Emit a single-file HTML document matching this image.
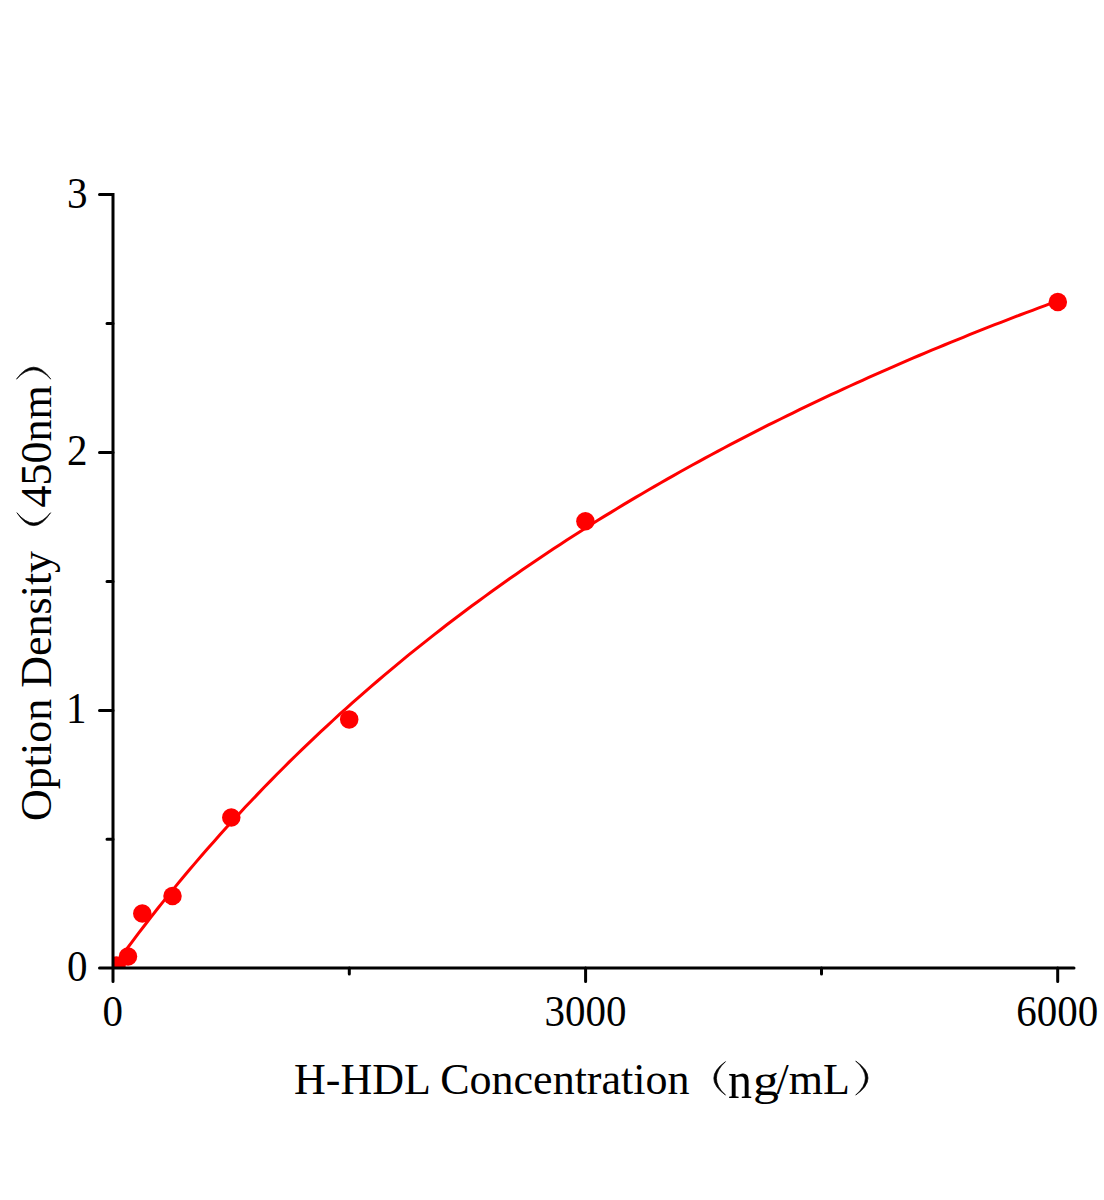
<!DOCTYPE html>
<html><head><meta charset="utf-8"><style>
html,body{margin:0;padding:0;background:#fff;width:1104px;height:1200px;overflow:hidden}
svg{display:block}
text{font-family:"Liberation Serif",serif;fill:#000}
</style></head><body>
<svg width="1104" height="1200" viewBox="0 0 1104 1200">
<rect width="1104" height="1200" fill="#fff"/>
<defs><clipPath id="pc"><rect x="113" y="150" width="1000" height="818"/></clipPath></defs>

<g font-size="41">
<text transform="translate(87.5,208) scale(1,1.088)" text-anchor="end">3</text>
<text transform="translate(87.5,465) scale(1,1.088)" text-anchor="end">2</text>
<text transform="translate(86.5,723) scale(1,1.088)" text-anchor="end">1</text>
<text transform="translate(87.5,981) scale(1,1.088)" text-anchor="end">0</text>
<text transform="translate(112.7,1025.5) scale(1,1.088)" text-anchor="middle">0</text>
<text transform="translate(585.5,1025.5) scale(1,1.088)" text-anchor="middle">3000</text>
<text transform="translate(1057.3,1025.5) scale(1,1.088)" text-anchor="middle">6000</text>
</g>
<g clip-path="url(#pc)" fill="#f00">
<path d="M113.0,968.0 L119.3,959.2 L125.6,950.5 L131.9,942.1 L138.2,933.7 L144.5,925.5 L150.8,917.3 L157.1,909.3 L163.4,901.4 L169.7,893.6 L176.0,885.9 L182.3,878.3 L188.6,870.8 L194.9,863.4 L201.2,856.1 L207.5,848.8 L213.8,841.7 L220.1,834.6 L226.4,827.6 L232.7,820.7 L239.0,813.9 L245.3,807.1 L251.6,800.5 L257.9,793.9 L264.2,787.3 L270.5,780.9 L276.7,774.5 L283.0,768.2 L289.3,761.9 L295.6,755.7 L301.9,749.6 L308.2,743.6 L314.5,737.6 L320.8,731.7 L327.1,725.8 L333.4,720.0 L339.7,714.2 L346.0,708.6 L352.3,702.9 L358.6,697.4 L364.9,691.8 L371.2,686.4 L377.5,681.0 L383.8,675.6 L390.1,670.3 L396.4,665.1 L402.7,659.9 L409.0,654.7 L415.3,649.6 L421.6,644.6 L427.9,639.6 L434.2,634.6 L440.5,629.7 L446.8,624.8 L453.1,620.0 L459.4,615.3 L465.7,610.5 L472.0,605.8 L478.3,601.2 L484.6,596.6 L490.9,592.0 L497.2,587.5 L503.5,583.0 L509.8,578.6 L516.1,574.2 L522.4,569.8 L528.7,565.5 L535.0,561.2 L541.3,557.0 L547.6,552.8 L553.9,548.6 L560.2,544.4 L566.5,540.3 L572.8,536.3 L579.1,532.2 L585.4,528.2 L591.6,524.3 L597.9,520.3 L604.2,516.4 L610.5,512.6 L616.8,508.7 L623.1,504.9 L629.4,501.1 L635.7,497.4 L642.0,493.7 L648.3,490.0 L654.6,486.4 L660.9,482.7 L667.2,479.1 L673.5,475.6 L679.8,472.0 L686.1,468.5 L692.4,465.0 L698.7,461.6 L705.0,458.1 L711.3,454.7 L717.6,451.4 L723.9,448.0 L730.2,444.7 L736.5,441.4 L742.8,438.1 L749.1,434.9 L755.4,431.6 L761.7,428.4 L768.0,425.2 L774.3,422.1 L780.6,419.0 L786.9,415.9 L793.2,412.8 L799.5,409.7 L805.8,406.7 L812.1,403.6 L818.4,400.7 L824.7,397.7 L831.0,394.7 L837.3,391.8 L843.6,388.9 L849.9,386.0 L856.2,383.1 L862.5,380.3 L868.8,377.4 L875.1,374.6 L881.4,371.8 L887.7,369.1 L894.0,366.3 L900.2,363.6 L906.5,360.9 L912.8,358.2 L919.1,355.5 L925.4,352.8 L931.7,350.2 L938.0,347.6 L944.3,345.0 L950.6,342.4 L956.9,339.8 L963.2,337.3 L969.5,334.7 L975.8,332.2 L982.1,329.7 L988.4,327.2 L994.7,324.7 L1001.0,322.3 L1007.3,319.9 L1013.6,317.4 L1019.9,315.0 L1026.2,312.6 L1032.5,310.3 L1038.8,307.9 L1045.1,305.6 L1051.4,303.2 L1057.7,300.9" stroke="#f00" stroke-width="3" fill="none"/>
<circle cx="116.5" cy="965.5" r="9.25"/>
<circle cx="128" cy="956.5" r="9.25"/>
<circle cx="142.3" cy="913.5" r="9.25"/>
<circle cx="172.5" cy="896" r="9.25"/>
<circle cx="231.3" cy="817.5" r="9.25"/>
<circle cx="349.2" cy="719.4" r="9.25"/>
<circle cx="585.4" cy="521.3" r="9.25"/>
<circle cx="1057.8" cy="302" r="9.25"/>
</g>
<g stroke="#000" stroke-width="3" stroke-linecap="round" fill="none">
<path d="M99.5,194.6 H113 V981.5" stroke-linejoin="miter"/>
<path d="M99.5,968 H1074"/>
<path d="M99.5,452.6 H113 M99.5,710.4 H113"/>
<path d="M107,323.6 H113 M107,581.5 H113 M107,839.2 H113"/>
<path d="M585.6,968 V981.5 M1057.7,968 V981.5"/>
<path d="M349.3,968 V974 M821.5,968 V974"/>
</g>
<text font-size="44" x="294" y="1094">H-HDL Concentration</text>
<text font-size="48" transform="translate(728,1097.5) scale(1,1.08)">n</text>
<text font-size="44" transform="translate(753,1095) scale(1.18,1)">g</text>
<text font-size="44" x="776.5" y="1094">/mL</text>
<g fill="#000" stroke="#000" stroke-width="0.7" stroke-linejoin="round">
<path d="M725.5,1061.6 Q702.10,1078.35 725.5,1095.1 Q707.30,1078.35 725.5,1061.6Z"/>
<path d="M855.7,1061.0 Q880.30,1078.05 855.7,1095.1 Q875.10,1078.05 855.7,1061.0Z"/>
<path d="M16.5,379.1 Q33.65,355.30 50.8,379.1 Q33.65,360.50 16.5,379.1Z"/>
<path d="M16.9,512.7 Q33.75,538.50 50.6,512.7 Q33.75,533.30 16.9,512.7Z"/>
</g>
<g transform="translate(50.5,592) rotate(-90)" font-size="44">
<text x="-229" y="0">Option Density</text>
<text x="84.5" y="0">450nm</text>
</g>
</svg>
</body></html>
